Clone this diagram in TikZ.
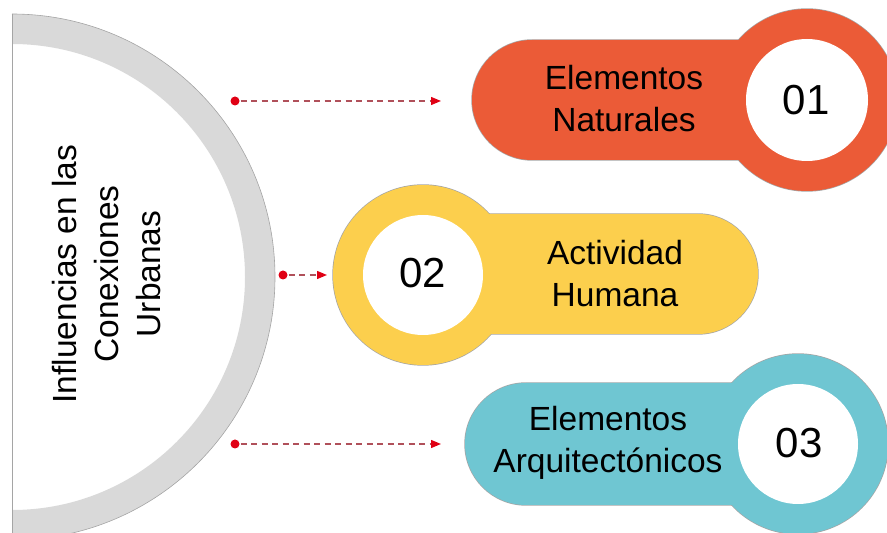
\documentclass[tikz,border=0pt]{standalone}
\usepackage{fontspec}
\setmainfont{Liberation Sans}
\usetikzlibrary{arrows.meta}
\definecolor{ringgray}{RGB}{217,217,217}
\definecolor{edgegray}{RGB}{165,165,165}
\definecolor{cOrange}{RGB}{235,91,55}
\definecolor{cYellow}{RGB}{252,207,77}
\definecolor{cTeal}{RGB}{111,198,210}
\definecolor{dashred}{RGB}{176,80,90}
\definecolor{dotred}{RGB}{224,0,20}
\tikzset{
  outline/.style={draw=edgegray, line width=1.4pt},
  label/.style={font=\fontsize{33.5}{42}\selectfont, align=center, inner sep=0pt},
  numlabel/.style={font=\fontsize{42}{42}\selectfont, inner sep=0pt},
  dotnode/.style={circle, fill=dotred, inner sep=0pt, minimum size=9pt},
  conn/.style={draw=dashred, line width=1.3pt, dash pattern=on 6pt off 4.5pt,
    -{Triangle[length=10pt,width=8pt,color=dotred,fill=dotred]}, shorten <=1pt},
  whitedisc/.style={fill=white}
}
\begin{document}
\begin{tikzpicture}[x=1pt,y=1pt]
\useasboundingbox (0,0) rectangle (887,533);
\clip (0,0) rectangle (887,533);
% gray half ring
\fill[ringgray] (12,519) arc (90:-90:263) -- (12,23) arc (-90:90:233) -- cycle;
\draw[edgegray, line width=0.6pt] (12,519) arc (90:-90:263);
\draw[edgegray, line width=0.6pt] (12,519) -- (12,-7);
\node[label, rotate=90] (title) at (107,259) {Influencias en las\\Conexiones\\Urbanas};

% group 01 (orange)
\path[outline] (532,373) arc (270:90:60) -- (807,493) -- (807,373) -- cycle;
\path[outline] (807,433) circle (91);
\fill[cOrange] (532,373) arc (270:90:60) -- (807,493) -- (807,373) -- cycle;
\fill[cOrange] (807,433) circle (91);
\fill[whitedisc] (807,433) circle (61);
\node[label] (t1) at (624,434) {Elementos\\Naturales};
\node[numlabel] (n1) at (806,433) {01};

% group 02 (yellow)
\path[outline] (698,199) arc (-90:90:60) -- (423,319) -- (423,199) -- cycle;
\path[outline] (423,258) circle (90);
\fill[cYellow] (698,199) arc (-90:90:60) -- (423,319) -- (423,199) -- cycle;
\fill[cYellow] (423,258) circle (90);
\fill[whitedisc] (423,258) circle (60);
\node[label] (t2) at (615,259) {Actividad\\Humana};
\node[numlabel] (n2) at (423,260) {02};

% group 03 (teal)
\path[outline] (526,28) arc (270:90:61) -- (798,150) -- (798,28) -- cycle;
\path[outline] (798,89) circle (90);
\fill[cTeal] (526,28) arc (270:90:61) -- (798,150) -- (798,28) -- cycle;
\fill[cTeal] (798,89) circle (90);
\fill[whitedisc] (798,89) circle (60);
\node[label] (t3) at (608,90) {Elementos\\Arquitectónicos};
\node[numlabel] (n3) at (799,90) {03};

% connectors
\node[dotnode] (d1) at (235,432) {};
\coordinate (e1) at (441,432);
\draw[conn] (d1) -- (e1);
\node[dotnode] (d2) at (283,258) {};
\coordinate (e2) at (327,258);
\draw[conn] (d2) -- (e2);
\node[dotnode] (d3) at (235,89) {};
\coordinate (e3) at (441,89);
\draw[conn] (d3) -- (e3);
\end{tikzpicture}
\end{document}
